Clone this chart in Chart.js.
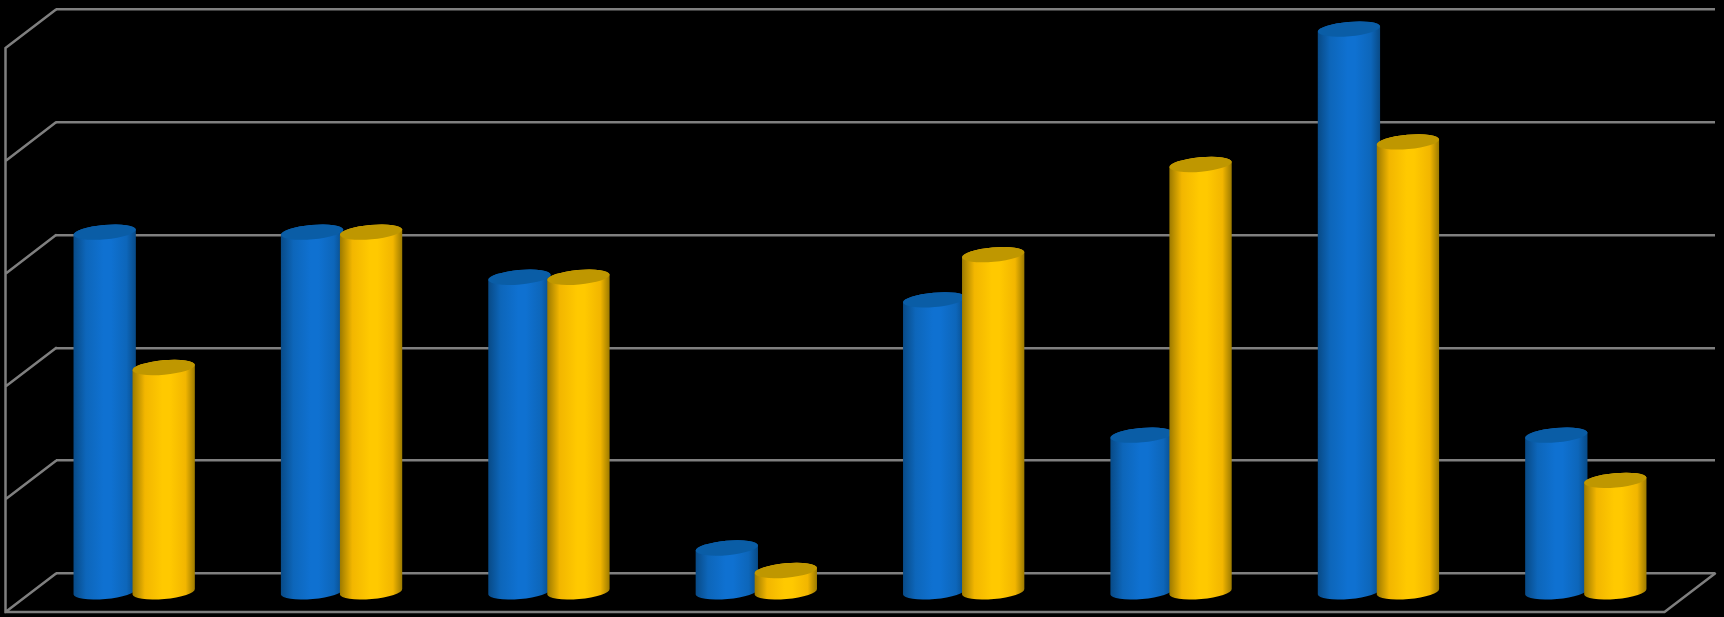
<!DOCTYPE html>
<html>
<head>
<meta charset="utf-8">
<style>
    html, body { margin: 0; padding: 0; background: #000; }
    canvas { display: block; }
</style>
<script src="https://cdn.jsdelivr.net/npm/chart.js@4"></script>
</head>
<body>
<canvas id="chart" width="1724" height="617"></canvas>
<script>
const categories = ['1', '2', '3', '4', '5', '6', '7', '8'];
const blueValues = [32, 32, 28, 4, 26, 14, 50, 14];
const yellowValues = [20, 32, 28, 2, 30, 38, 40, 10];
const axisMax = 50;
const axisStep = 10;

const GRID_COLOR = '#7f7f7f';
// how far the floor comes forward from the back wall
const DEPTH_X = 50.5;
const DEPTH_Y = 38.6;
// bars stand about half way into the floor
const BAR_SHIFT_X = 25.5;
const BAR_SHIFT_Y = 19.6;
const TILT = -5 * Math.PI / 180;
const CAP_RY = 7.2;

function cylinderFill(ctx, left, right, edge, mid, center) {
    const g = ctx.createLinearGradient(left, 0, right, 0);
    g.addColorStop(0, edge);
    g.addColorStop(0.2, mid);
    g.addColorStop(0.48, center);
    g.addColorStop(0.6, center);
    g.addColorStop(0.85, mid);
    g.addColorStop(1, edge);
    return g;
}

function drawWalls(chart) {
    const { ctx, chartArea, scales } = chart;
    const frontX = chartArea.left - DEPTH_X;
    const frontY = chartArea.bottom + DEPTH_Y;
    ctx.save();
    ctx.strokeStyle = GRID_COLOR;
    ctx.lineWidth = 2.5;
    ctx.lineCap = 'round';
    ctx.beginPath();
    scales.y.ticks.forEach(t => {
        const y = scales.y.getPixelForValue(t.value);
        ctx.moveTo(chartArea.left, y);
        ctx.lineTo(frontX, y + DEPTH_Y);
    });
    ctx.moveTo(frontX, scales.y.getPixelForValue(axisMax) + DEPTH_Y);
    ctx.lineTo(frontX, frontY);
    ctx.lineTo(chartArea.right - DEPTH_X, frontY);
    ctx.lineTo(chartArea.right, chartArea.bottom);
    ctx.stroke();
    ctx.restore();
}

function drawCylinder(ctx, bar, ds) {
    const cx = bar.x - BAR_SHIFT_X;
    const top = bar.y + BAR_SHIFT_Y;
    const base = bar.base + BAR_SHIFT_Y;
    const rx = bar.width / 2;

    ctx.beginPath();
    ctx.ellipse(cx, base, rx, CAP_RY, TILT, 0, Math.PI);
    ctx.ellipse(cx, top, rx, CAP_RY, TILT, Math.PI, Math.PI * 2);
    ctx.closePath();
    ctx.fillStyle = cylinderFill(ctx, cx - rx, cx + rx, ds.edgeColor, ds.midColor, ds.backgroundColor);
    ctx.fill();

    ctx.beginPath();
    ctx.ellipse(cx, top, rx, CAP_RY, TILT, 0, Math.PI * 2);
    ctx.fillStyle = ds.capColor;
    ctx.fill();
}

const cylinders = {
    id: 'cylinders',
    beforeDatasetsDraw(chart) {
        drawWalls(chart);
        // yellow goes over blue, so draw in dataset order instead of chart.js's reverse one
        chart.data.datasets.forEach((ds, i) => {
            chart.getDatasetMeta(i).data.forEach(bar => drawCylinder(chart.ctx, bar, ds));
        });
        return false;
    }
};

new Chart(document.getElementById('chart'), {
    type: 'bar',
    data: {
        labels: categories,
        datasets: [
            { data: blueValues, backgroundColor: '#0f71d1', midColor: '#0d66ba', edgeColor: '#084a86', capColor: '#0a5da6' },
            { data: yellowValues, backgroundColor: '#ffc900', midColor: '#f2b600', edgeColor: '#9c7a00', capColor: '#bf9700' }
        ]
    },
    options: {
        responsive: false,
        animation: false,
        categoryPercentage: 0.569,
        barPercentage: 1.06,
        layout: { padding: { left: 56, right: 9, top: 9.5, bottom: 43.5 } },
        plugins: { legend: { display: false }, tooltip: { enabled: false } },
        scales: {
            x: { display: false },
            y: {
                min: 0,
                max: axisMax,
                ticks: { stepSize: axisStep, display: false },
                border: { display: false },
                grid: { color: GRID_COLOR, lineWidth: 2.5, drawTicks: false }
            }
        }
    },
    plugins: [cylinders]
});
</script>
</body>
</html>
